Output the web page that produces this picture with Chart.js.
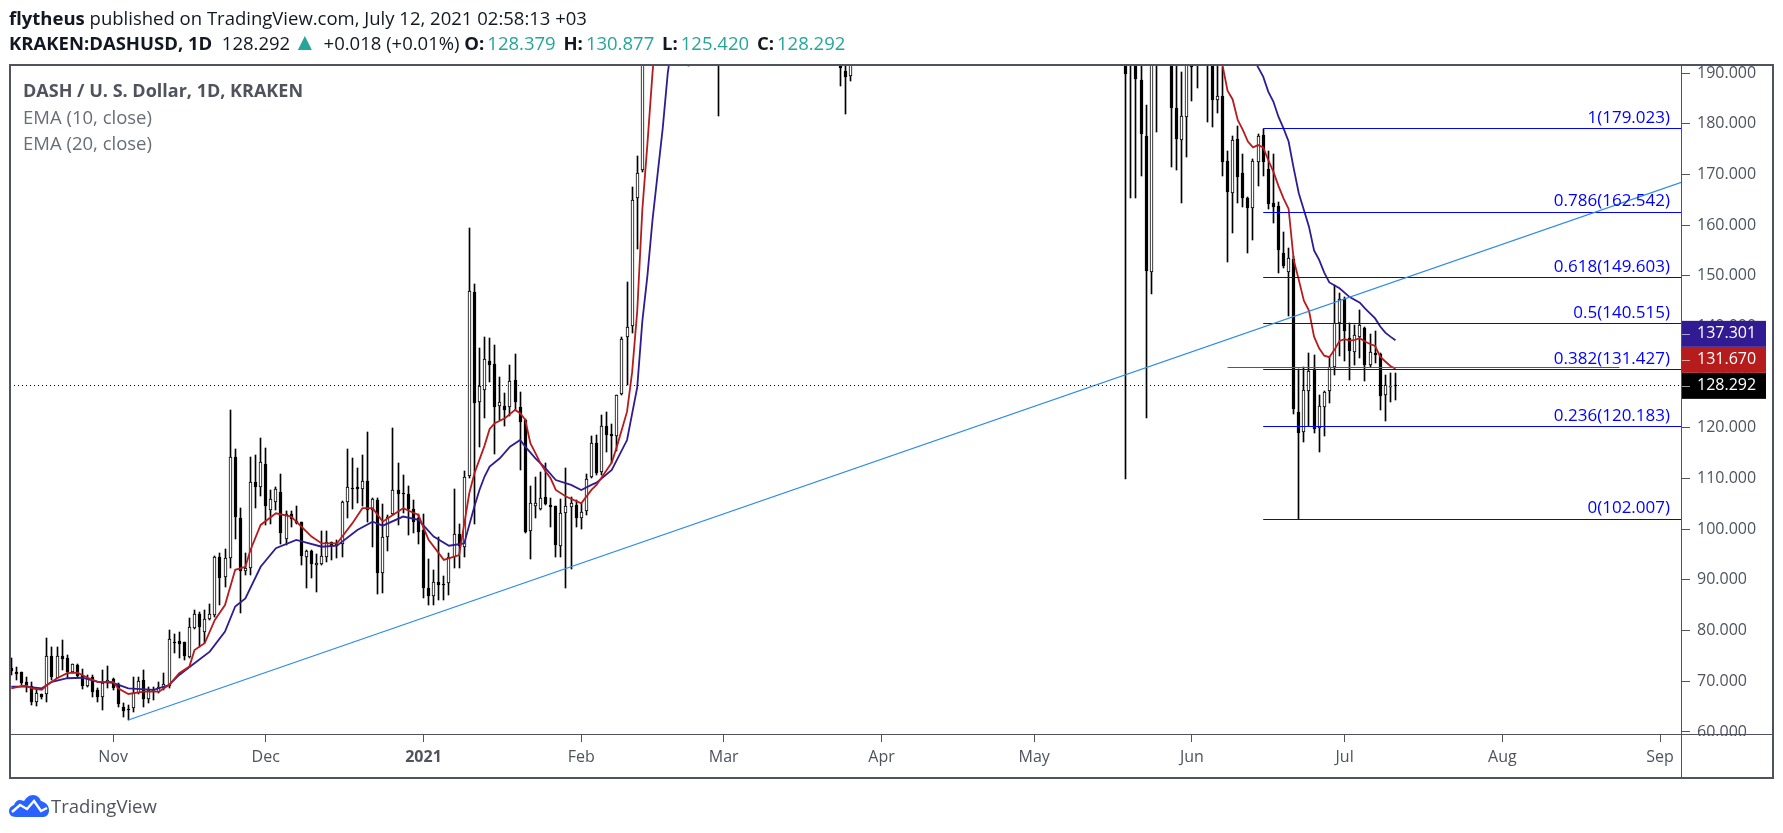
<!DOCTYPE html>
<html>
<head>
<meta charset="utf-8">
<title>KRAKEN:DASHUSD, 1D</title>
<script src="https://cdn.jsdelivr.net/npm/chart.js@4"></script>
<style>
  html, body { margin: 0; background: #fff; width: 1783px; height: 833px; overflow: hidden; }
  #chart { position: absolute; left: 0; top: 0; }
  .txt { position: absolute; white-space: pre; font-family: "Open Sans", sans-serif; }
  #l1 { left: 9px; top: 5px; font-size: 18.5px; color: #131722; }
  #l2 { left: 9px; top: 30px; font-size: 18.5px; line-height: 25px; color: #131722; }
  #l2 i { font-style: normal; color: #26a69a; margin-left: 3px; margin-right: 3px; }
  #l2 i.up { font-size: 24px; line-height: 20px; margin: 0 2px 0 -2px; }
  b { font-weight: 700; }
  #leg1 { left: 23px; top: 78px; font-size: 18px; font-weight: 700; color: #50535e; }
  #leg2 { left: 23px; top: 104px; font-size: 18.5px; color: #6a6d78; }
  #leg3 { left: 23px; top: 130px; font-size: 18.5px; color: #6a6d78; }
  #frame { position: absolute; left: 9px; top: 64px; width: 1761px; height: 711px; border: 2px solid #50535e; }
  #axv { position: absolute; left: 1681px; top: 65px; width: 1px; height: 713px; background: #50535e; }
  #axh { position: absolute; left: 10px; top: 734px; width: 1762px; height: 1px; background: #50535e; }
  #logo { position: absolute; left: 9px; top: 795px; }
  #brand { left: 51px; top: 793px; font-size: 18.5px; color: #50535e; }
</style>
</head>
<body>
<canvas id="chart" width="1783" height="833"></canvas>
<div class="txt" id="l1"><b>flytheus</b> published on TradingView.com, July 12, 2021 02:58:13 +03</div>
<div class="txt" id="l2"><b>KRAKEN:DASHUSD, 1D</b>  128.292 <i class="up">▲</i> +0.018 (+0.01%) <b>O:</b><i>128.379</i> <b>H:</b><i>130.877</i> <b>L:</b><i>125.420</i> <b>C:</b><i>128.292</i></div>
<div class="txt" id="leg1">DASH / U. S. Dollar, 1D, KRAKEN</div>
<div class="txt" id="leg2">EMA (10, close)</div>
<div class="txt" id="leg3">EMA (20, close)</div>
<div id="frame"></div><div id="axv"></div><div id="axh"></div>
<svg id="logo" width="40" height="23" viewBox="0 0 40 23">
  <path d="M7 22C2 22 0 19 0 16c0-3 2-5 5-6 1-3 3-5 6-5 2 0 3 1 4 1 2-3 5-6 9-6 4 0 7 3 8 6 4 1 8 4 8 9 0 4-2 7-6 7z" fill="#2962ff"/>
  <path d="M3 17l8-7 7 4 7-8 7 10 6-3" fill="none" stroke="#fff" stroke-width="2.4"/>
</svg>
<div class="txt" id="brand">TradingView</div>
<script>
// days counted from 1 Nov 2020, candles that sit fully above the chart are left out
const candleDay = [
  -20,-19,-18,-17,-16,-15,-14,-13,-12,-11,
  -10,-9,-8,-7,-6,-5,-4,-3,-2,-1,
  0,1,2,3,4,5,6,7,8,9,
  10,11,12,13,14,15,16,17,18,19,
  20,21,22,23,24,25,26,27,28,29,
  30,31,32,33,34,35,36,37,38,39,
  40,41,42,43,44,45,46,47,48,49,
  50,51,52,53,54,55,56,57,58,59,
  60,61,62,63,64,65,66,67,68,69,
  70,71,72,73,74,75,76,77,78,79,
  80,81,82,83,84,85,86,87,88,89,
  90,91,92,93,94,95,96,97,98,99,
  100,101,102,103,104,113,119,143,144,145,
  199,200,201,202,203,204,205,208,209,210,
  211,212,213,215,216,217,218,219,220,221,
  222,223,224,225,226,227,228,229,230,231,
  232,233,234,235,236,237,238,239,240,241,
  242,243,244,245,246,247,248,249,250,251,
  252
];
const candleOpen = [
  72.55,71.8,71.9,69.85,69.05,65.95,67.4,67.4,75,70.6,
  75,74.5,71.9,73.2,71.25,69.1,70.9,68.3,66.8,69.85,
  70.4,69.45,64.85,64.45,64.65,67.6,70.25,66.6,68.15,67.95,
  68.6,69.05,77.75,77.9,77.75,74.7,80.45,83.2,79.8,82.3,
  83.1,94.5,90.5,94.3,114.2,102.2,91.85,92.3,109.3,108.3,
  112.85,103.7,105.45,107.3,98,102.95,101.7,101.4,94.6,95.7,
  92.85,93.15,94.6,97.4,96.6,97.05,105.45,108.1,108.3,108,
  109.55,103.8,105.8,91.3,98.4,103,107.8,107.1,107,103.95,
  102.2,99.85,88.35,86.9,89.5,89.15,89.3,94.6,99,96.4,
  110.6,146.8,125.2,127.4,133.2,132.55,124.4,124.35,124.2,129.5,
  124.2,121.6,99.75,104.5,104,106.3,104.8,104.6,96.6,103.15,
  104.45,104.8,102.3,103.5,110.25,117,111.2,120.4,118.8,118.4,
  126.65,137.9,140.1,165.3,170.8,196,198,194,190.4,189.4,
  195,196,193,188.65,177.6,150.8,197,197,183.05,176.8,
  181.4,195,194,194,196,184.6,185.5,172.65,166.3,176.95,
  170.2,165.3,163.45,172.5,177.8,171.1,164.3,163.8,154.45,150.85,
  153.3,123.05,119.25,127.35,131.65,119.9,124.05,127.35,132.1,140.65,
  145.4,137.7,134.9,138,139.8,132.45,134.7,134.6,126.4,128.15,
  128.379
];
const candleHigh = [
  74.5,72.9,71.9,70.9,69.9,68.6,67.4,78.5,76.85,76.85,
  78.15,75.2,73.5,73.5,72.35,71.25,71.25,68.6,72.2,73,
  70.6,69.6,65.65,65.3,70.9,70.8,72.2,68.95,68.8,69.9,
  71.6,80.1,79.3,79.8,77.75,82.4,84.1,83.7,84.1,85.25,
  94.7,95.4,96.05,123.55,115.8,104.15,95.4,114.2,114.55,117.95,
  116,107.8,108.3,110.85,103.5,103.5,104.5,101.5,95.9,95.9,
  95.05,99.7,99.7,97.55,97.9,105.6,115.8,114,112.05,114.7,
  119.15,106.1,106.1,105,102.8,119.9,113,110.7,108.5,105.8,
  103,103,94.1,92,98.55,90.85,95.3,107.9,101,111.4,
  159.4,148.35,135.7,138,137.8,136.4,130.1,126.85,132.4,134.5,
  127.05,121.7,108.55,110.4,111.2,113,106.1,104.6,105.9,112,
  106.3,105.8,105.1,110.9,118.4,118.6,122.55,123.1,120.8,126.5,
  138,148.75,167.5,173.7,210,198,200,196,194,195,
  197,198,195,191.6,183.7,200,199,199,191.4,190.3,
  199,197,196,196,198,191.6,191.3,174.7,177.6,179.6,
  174.05,165.6,173.05,178,179.02,174.7,174.05,164.65,158.7,155.45,
  153.95,131.6,132.1,134.75,134.4,126.5,127.3,133.9,148.2,146.55,
  145.9,140.65,140.3,143.3,140,138.55,139.1,134.7,130.45,130.8,
  130.877
];
const candleLow = [
  71.2,70.3,69.3,67.95,65.3,65.1,66.6,65.95,70.25,70.6,
  72.2,70.6,71.6,70.8,68.5,68.9,66.95,65.95,64.3,68.6,
  68.3,64.85,63,62.35,64,67.4,64.85,65.65,66.3,67.75,
  68.3,68.6,75.5,74.5,74.2,74.5,80.25,76.85,77.5,82.1,
  82.75,85.1,88.7,92.3,98.1,83.55,91,91,104.15,106.65,
  100.85,101.05,103.8,97.1,96.8,100.5,101.05,92.85,88.5,90.45,
  87.7,92.95,93.5,93.95,94.3,94.6,102.2,104,105.1,104.5,
  101.5,96.4,87.2,87.5,95.8,102.8,100.85,103.2,98.9,99.2,
  97,86.4,85.05,85.05,86.05,86.05,87,92.3,92.3,94.5,
  110.2,101,116.3,122,129.15,114.9,121.6,120.3,122.25,123.5,
  111.6,99.2,94.1,102.15,103.7,104.8,100.5,94.5,94.6,88.35,
  92.1,100.5,100,102.8,110.05,110.7,110.7,115.3,113,115.5,
  126.5,128.5,138.7,155.3,170.4,191.4,181.6,187.5,181.9,188.5,
  110,165.3,165.4,169.7,122,146.5,178.45,171.55,170.9,164.3,
  173.35,184.4,187.1,180.4,179.45,182.2,169.75,152.8,158.4,164.45,
  163.5,154.55,157.1,167.75,169.6,163.2,160.35,150.6,151.5,142,
  122.8,102,117.3,120.4,118.95,115.3,118.3,124.85,130.45,134.2,
  133.1,129.45,132.45,133.75,129.3,132,132.75,123.55,121.35,125.2,
  125.42
];
const candleClose = [
  72.1,71.4,69.7,69.25,65.95,67.6,66.8,75,70.9,75,
  74.35,71.9,73.4,71.05,69.1,70.7,67.95,66.95,69.7,70.2,
  68.6,65.45,64.1,64.3,67.6,70.1,66.6,68.3,68.35,68.8,
  69.4,78.3,77.5,77.3,75,80.8,83.2,80.65,82.2,83.2,
  94.6,90.3,94.3,114.2,102.35,91.85,92.3,109.3,108.4,113.2,
  104.5,105.9,107.9,99.35,102.95,102.05,101.3,94.8,95.7,93.1,
  93.3,94.75,97.4,96.6,97.05,105.45,108.4,107.9,108,109.55,
  103.8,105.9,91.3,98.4,102.35,107.8,106.9,107,103.9,101.5,
  99.5,88.5,86.9,89.5,88.9,88.9,94.5,99,96.7,110.3,
  146.95,125,128.35,133.55,132.4,124.2,125.2,123.6,129.3,125.2,
  121.25,99.5,105.1,105.1,106.1,104.95,104.45,96.8,103.15,104.65,
  105.1,102.2,103.35,109.85,117,111.05,120.4,118.5,118.3,126.5,
  137.55,139.85,165,170.25,205,194,195,191.1,189.2,193,
  189.85,194,188.85,178,151,198,193,183.05,176.95,181.6,
  196,191.3,192.5,192,184.6,185.5,172.5,166.6,176.8,169.45,
  165.4,163.3,172.65,177.6,172.5,164.1,163.65,155.1,152,153.5,
  123.65,119.05,127.5,131.25,119.8,124.35,127,132.1,140.65,145.4,
  139.2,135.25,138.3,140.3,132.45,135.05,134.4,126.2,128.4,128.35,
  128.292
];

// EMA 10
const ema10Day = [
  -20,-18,-17,-16,-14,-13,-11,-9,-7,-5,-3,0,1,3,6,9,11,13,15,16,
  18,20,22,24,26,27,29,32,35,39,41,44,47,49,51,53,54,57,60,62,
  65,68,70,71,73,74,75,77,79,80,81,82,83,84,85,86,87,89,92,94,95,97,98,99,101,
  102,103,104,105,106,107,217,218,219,220,221,222,223,224,225,226,
  227,228,229,230,231,232,233,234,235,236,237,238,239,240,241,242,
  243,244,245,246,247,248,249,250,251,252
];
const ema10Val = [
  68.6,69.05,69.15,68.6,68.3,69.25,70.6,71.6,71.7,70.7,69.9,69.9,68.6,67.5,67.95,67.95,69.25,71.6,72.9,76.15,
  77.5,82.1,85.05,92,92.6,95.9,100.85,103.15,102.5,98.55,97.2,97.2,101.15,104.15,104.15,101.5,102.15,104.15,102.8,97.9,
  93.95,94.9,107.1,111,116.5,119.8,120.9,121.9,123.55,122.9,121.6,117,115,113,111.4,110,107.75,106.45,105.1,107.75,108.75,111.7,113.15,116.3,123.2,
  131,143,163,176,190,202,196,191.6,186.55,184.8,180.75,178.8,176.5,175.35,175.8,175.35,
  172.85,170.55,167.75,165.3,163.2,153.15,149.2,145.1,143.15,138,135.7,134.25,133.95,135.4,137.15,137.5,
  137.2,137.35,137.7,137.05,136.55,136.15,134.05,133.1,132.2,131.67
];

// EMA 20
const ema20Day = [
  -20,-17,-14,-12,-9,-6,-3,0,3,8,11,13,16,19,22,24,26,29,32,36,
  41,44,48,51,53,57,60,63,66,69,71,72,73,74,76,78,80,81,83,85,87,90,92,94,95,98,
  101,103,104,105,106,107,108,109,110,223,224,226,227,228,229,230,231,232,233,234,
  235,236,237,238,239,241,243,245,246,247,248,249,250,251,252
];
const ema20Val = [
  68.95,68.95,68.6,69.9,70.6,70.7,69.9,69.7,68.6,68.3,69.25,71.25,73.55,75.85,79.8,84.75,86.35,92.6,96.25,97.9,
  96.55,96.75,99.85,101.5,100.7,102.5,101.85,98.55,96.75,97.2,104.5,107.75,110.4,112.35,114,116.3,117.6,116.3,114,112,109.7,108.75,107.75,108.75,109.2,111.7,
  117.6,128,141,150,161,170,179,190,197,195,193,189.3,186.35,184.4,181.4,179.1,176.5,171.2,166.3,163,
  159.7,155,153.15,150.65,148.7,147.55,145.8,144.7,143.6,142.6,141.6,140,138.8,138,137.301
];

// trend line, fibonacci levels and the other drawn levels
const trendDay = [3, 308.3];
const trendVal = [62.35, 168.5];
const fibRatio = ['0', '0.236', '0.382', '0.5', '0.618', '0.786', '1'];
const fibPrice = [102.007, 120.183, 131.427, 140.515, 149.603, 162.542, 179.023];
const fibStartDay = 226;
const redLineDay = [219, 296];
const redLinePrice = 132;
const lastPrice = 128.292;
const tagPrices = [128.292, 131.670, 137.301];
const tagColors = ['#000000', '#b71c1c', '#311b92'];

const yTicks = [60, 70, 80, 90, 100, 110, 120, 130, 140, 150, 160, 170, 180, 190];
const xTickDays = [0, 30, 61, 92, 120, 151, 181, 212, 242, 273, 304];
const xTickLabels = ['Nov', 'Dec', '2021', 'Feb', 'Mar', 'Apr', 'May', 'Jun', 'Jul', 'Aug', 'Sep'];

const X_MIN = -20.25, X_MAX = 308.3;
const Y_MIN = 59.4, Y_MAX = 191.6;
const AXIS_COLOR = '#50535e';
const AXIS_FONT = '"Open Sans", sans-serif';

const toPoints = (xs, ys) => xs.map((x, i) => ({ x: x, y: ys[i] }));

const lineSet = (data, color, width, order, dash) => ({
  type: 'line',
  data: data,
  borderColor: color,
  borderWidth: width,
  borderDash: dash || [],
  pointRadius: 0,
  tension: 0,
  order: order
});

const levelSet = (price, fromDay, toDay, color, order, dash) =>
  Object.assign(lineSet([{ x: fromDay, y: price }, { x: toDay, y: price }], color, 1, order, dash), { level: true });

const fibSets = fibPrice.map(p => levelSet(p, fibStartDay, X_MAX, '#0000ff', 2));

// puts thin bars and flat lines on whole pixels so they stay crisp
const snapMarks = {
  id: 'snapMarks',
  afterDatasetsUpdate(chart) {
    chart.data.datasets.forEach((ds, i) => {
      const els = chart.getDatasetMeta(i).data;
      if (ds.level) {
        els.forEach(el => { el.y = Math.floor(el.y) + 0.5; });
      }
      if (ds.type !== 'bar') return;
      els.forEach(el => {
        el.x = Math.floor(el.x) + 0.5;
        el.y = Math.round(el.y);
        el.base = Math.round(el.base);
        if (el.y === el.base) el.base = el.y + 1;
      });
    });
  }
};

const overlays = {
  id: 'overlays',
  afterDraw(chart) {
    const ctx = chart.ctx;
    const area = chart.chartArea;
    const yScale = chart.scales.y;
    ctx.save();

    // the lowest price label is cut off by the time axis
    ctx.fillStyle = '#fff';
    ctx.fillRect(area.right + 1, area.bottom + 1, 89, 43);

    // fib labels
    ctx.font = '17px ' + AXIS_FONT;
    ctx.fillStyle = '#0000ff';
    ctx.textAlign = 'right';
    ctx.textBaseline = 'middle';
    fibPrice.forEach((p, i) => {
      ctx.fillText(fibRatio[i] + '(' + p.toFixed(3) + ')', area.right - 12, yScale.getPixelForValue(p) - 11);
    });

    // price tags, pushed upward when they would overlap
    ctx.font = '16px ' + AXIS_FONT;
    let prevY = Infinity;
    ctx.textAlign = 'left';
    tagPrices.forEach((p, i) => {
      const y = Math.min(yScale.getPixelForValue(p), prevY - 26);
      prevY = y;
      ctx.fillStyle = tagColors[i];
      ctx.fillRect(area.right, y - 13, 84, 26);
      ctx.fillStyle = 'rgba(255,255,255,0.6)';
      ctx.fillRect(area.right, Math.round(y), 8, 1);
      ctx.fillStyle = '#fff';
      ctx.fillText(p.toFixed(3), area.right + 15, y);
    });
    ctx.restore();
  }
};

new Chart(document.getElementById('chart'), {
  type: 'bar',
  data: {
    datasets: [
      {
        type: 'bar',
        data: candleDay.map((d, i) => ({ x: d, y: [candleLow[i], candleHigh[i]] })),
        backgroundColor: '#000',
        barThickness: 1,
        grouped: false,
        order: 6
      },
      {
        type: 'bar',
        data: candleDay.map((d, i) => ({ x: d, y: [candleOpen[i], candleClose[i]] })),
        backgroundColor: ctx => candleClose[ctx.dataIndex] >= candleOpen[ctx.dataIndex] ? '#fff' : '#000',
        borderColor: '#000',
        borderWidth: 1,
        borderSkipped: false,
        barThickness: 3,
        grouped: false,
        order: 5
      },
      lineSet(toPoints(ema10Day, ema10Val), '#b71c1c', 1.8, 3),
      lineSet(toPoints(ema20Day, ema20Val), '#311b92', 1.8, 4),
      lineSet(toPoints(trendDay, trendVal), '#2e8be6', 1.2, 2),
      levelSet(redLinePrice, redLineDay[0], redLineDay[1], '#d8202a', 1),
      levelSet(lastPrice, X_MIN, X_MAX, '#000', 1, [1, 3])
    ].concat(fibSets)
  },
  options: {
    responsive: false,
    animation: false,
    devicePixelRatio: 1,
    events: [],
    layout: { padding: { left: 10, top: 65, right: 11, bottom: 55 } },
    plugins: { legend: { display: false }, tooltip: { enabled: false } },
    scales: {
      x: {
        type: 'linear',
        min: X_MIN,
        max: X_MAX,
        offset: false,
        border: { display: false },
        grid: { offset: false, drawOnChartArea: false, tickLength: 7, tickColor: AXIS_COLOR },
        afterBuildTicks: s => { s.ticks = xTickDays.map(v => ({ value: v })); },
        afterFit: s => { s.height = 43; },
        ticks: {
          autoSkip: false,
          maxRotation: 0,
          padding: 6,
          color: AXIS_COLOR,
          font: ctx => ({
            family: AXIS_FONT,
            size: 16,
            weight: ctx.tick && ctx.tick.value === 61 ? '700' : '400'
          }),
          callback: v => xTickLabels[xTickDays.indexOf(v)]
        }
      },
      y: {
        position: 'right',
        min: Y_MIN,
        max: Y_MAX,
        border: { display: false },
        grid: { drawOnChartArea: false, tickLength: 8, tickColor: AXIS_COLOR },
        afterBuildTicks: s => { s.ticks = yTicks.map(v => ({ value: v })); },
        afterFit: s => { s.width = 90; },
        ticks: {
          autoSkip: false,
          padding: 7,
          color: AXIS_COLOR,
          font: { family: AXIS_FONT, size: 16 },
          callback: v => v.toFixed(3)
        }
      }
    }
  },
  plugins: [snapMarks, overlays]
});
</script>
</body>
</html>
